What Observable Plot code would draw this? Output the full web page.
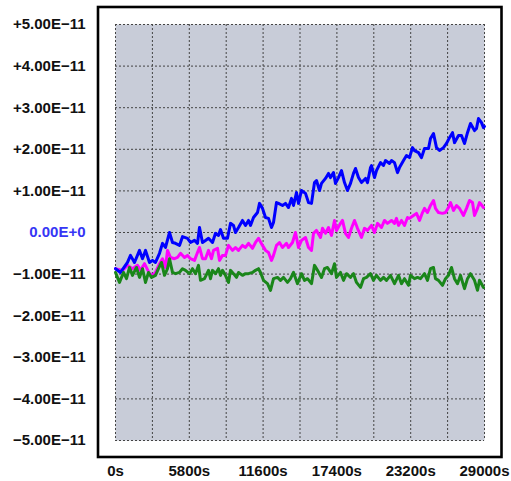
<!DOCTYPE html>
<html>
<head>
<meta charset="utf-8">
<script src="https://cdn.jsdelivr.net/npm/d3@7"></script>
<script src="https://cdn.jsdelivr.net/npm/@observablehq/plot@0.6"></script>
<style>
  html, body { margin: 0; padding: 0; background: #ffffff; }
</style>
</head>
<body>
<div id="chart"></div>
<script>
// Values are in units of 1E-11; time in seconds.
const xTickValues = [0, 5800, 11600, 17400, 23200, 29000];
const xTickLabels = ["0s", "5800s", "11600s", "17400s", "23200s", "29000s"];
const xGridTicks = [0, 2900, 5800, 8700, 11600, 14500, 17400, 20300, 23200, 26100, 29000];

const yTickValues = [5, 4, 3, 2, 1, 0, -1, -2, -3, -4, -5];
const yTickLabels = ["+5.00E−11", "+4.00E−11", "+3.00E−11", "+2.00E−11", "+1.00E−11", "0.00E+0",
  "−1.00E−11", "−2.00E−11", "−3.00E−11", "−4.00E−11", "−5.00E−11"];

const blueT = [0,393,943,1179,1493,1886,2122,2358,2672,2908,3144,3458,3694,3930,4244,4480,4715,5030,5265,5658,5894,6209,6444,6602,6837,7073,7309,7623,7859,8095,8252,8488,8802,9038,9274,9431,9667,9981,10217,10453,10610,10846,11160,11317,11553,11789,12024,12260,12417,12653,12810,13125,13360,13596,13832,13989,14225,14382,14618,14932,15168,15404,15639,15797,16032,16190,16504,16740,16897,17133,17290,17526,17762,17997,18233,18469,18704,18862,19097,19333,19648,19805,20041,20119,20355,20512,20826,21062,21219,21534,21691,21927,22162,22320,22634,22870,23106,23341,23498,23813,24049,24284,24599,24756,24992,25228,25463,25778,26013,26249,26485,26642,26956,27192,27428,27664,27899,28214,28371,28528,28764,28921,29000];
const blueV = [-0.87,-0.96,-0.72,-0.55,-0.72,-0.43,-0.63,-0.43,-0.72,-0.67,-0.72,-0.50,-0.26,-0.36,0.00,-0.24,-0.26,-0.31,-0.10,-0.14,-0.24,-0.19,-0.26,0.12,-0.24,-0.19,-0.14,-0.24,-0.02,-0.07,0.07,-0.14,-0.14,0.22,0.17,0.00,0.12,0.29,0.17,0.29,0.17,0.36,0.48,0.70,0.58,0.36,0.34,0.12,0.24,0.72,0.70,0.65,0.70,0.60,0.82,0.65,0.96,0.70,1.01,0.94,0.72,0.70,1.20,1.25,1.01,1.18,1.30,1.42,1.32,1.44,1.18,1.32,1.49,1.20,1.01,1.18,1.42,1.54,1.32,1.20,1.30,1.20,1.56,1.61,1.32,1.49,1.68,1.61,1.73,1.66,1.73,1.68,1.44,1.56,1.73,1.85,1.80,2.04,1.97,1.92,1.80,2.02,2.02,2.26,2.38,2.04,1.97,2.04,2.14,2.28,2.40,2.16,2.33,2.33,2.14,2.40,2.62,2.45,2.50,2.74,2.64,2.52,2.55];

const magentaT = [0,550,943,1336,1729,1965,2279,2672,2908,3144,3458,3694,3930,4087,4322,4637,4873,5108,5423,5658,5894,6209,6444,6602,6837,7073,7309,7545,7702,8016,8173,8409,8645,8881,9195,9431,9667,9981,10217,10453,10767,11003,11238,11553,11789,12024,12260,12417,12653,12889,13125,13439,13596,13910,14146,14382,14618,14932,15168,15404,15561,15797,16111,16268,16504,16740,16976,17212,17369,17683,17840,18076,18311,18547,18783,19019,19333,19569,19805,20119,20355,20591,20905,21141,21377,21691,21927,22084,22241,22477,22713,22948,23106,23420,23656,23892,24127,24284,24520,24756,24992,25149,25385,25699,25935,26171,26328,26564,26800,27035,27350,27586,27821,28057,28214,28450,28607,28921];
const magentaV = [-0.87,-0.91,-0.79,-0.87,-0.79,-0.91,-0.75,-0.99,-1.03,-0.96,-0.75,-0.63,-0.84,-0.43,-0.60,-0.63,-0.60,-0.50,-0.60,-0.55,-0.63,-0.67,-0.48,-0.36,-0.63,-0.63,-0.43,-0.63,-0.43,-0.38,-0.67,-0.55,-0.55,-0.31,-0.43,-0.36,-0.43,-0.31,-0.36,-0.26,-0.38,-0.24,-0.14,-0.31,-0.43,-0.48,-0.67,-0.55,-0.31,-0.24,-0.36,-0.26,-0.36,-0.24,0.00,-0.36,-0.19,-0.12,-0.36,-0.43,-0.02,0.05,-0.12,0.10,-0.02,0.12,-0.07,0.29,0.05,0.22,0.29,-0.02,-0.12,0.10,0.29,0.10,-0.12,0.10,0.05,0.17,0.00,0.22,0.12,0.29,0.22,0.29,0.22,0.34,0.17,0.29,0.17,0.36,0.34,0.41,0.46,0.29,0.48,0.58,0.48,0.65,0.77,0.58,0.48,0.46,0.48,0.60,0.72,0.53,0.65,0.58,0.41,0.58,0.77,0.72,0.41,0.58,0.72,0.60];

const greenT = [0,314,629,865,1100,1336,1650,1886,2122,2358,2593,2829,3144,3379,3615,3851,4087,4244,4480,4715,5030,5265,5501,5816,6051,6287,6523,6680,6994,7309,7466,7623,7859,8095,8252,8409,8645,8881,9038,9274,9509,9667,9981,10217,10453,10767,11003,11238,11396,11631,11946,12181,12417,12732,12967,13203,13517,13753,13989,14303,14618,14853,15089,15404,15639,15875,16190,16425,16661,16976,17212,17369,17683,17919,18154,18469,18704,18940,19255,19490,19726,20041,20276,20512,20826,21062,21298,21612,21927,22241,22477,22713,23027,23184,23498,23734,23970,24284,24520,24756,24992,25149,25385,25699,25935,26171,26406,26642,26878,27114,27428,27664,27899,28214,28450,28607,28921];
const greenV = [-0.96,-1.20,-0.96,-1.11,-0.84,-1.03,-0.84,-1.08,-0.87,-1.20,-0.96,-1.08,-1.03,-0.87,-0.72,-1.03,-0.87,-0.63,-0.96,-0.99,-0.96,-0.87,-0.91,-0.99,-0.87,-0.99,-0.79,-1.15,-1.11,-0.91,-1.11,-0.91,-0.99,-0.87,-1.03,-0.91,-1.03,-1.20,-0.91,-0.99,-1.08,-0.96,-1.03,-0.99,-0.99,-0.96,-0.91,-0.87,-0.96,-1.15,-1.23,-1.39,-1.11,-1.08,-1.15,-1.08,-1.20,-1.11,-0.96,-1.23,-0.99,-1.15,-1.11,-1.23,-0.79,-0.91,-1.08,-0.87,-0.84,-0.99,-0.75,-1.08,-0.96,-1.15,-0.99,-1.08,-0.99,-1.20,-1.32,-1.11,-1.08,-0.99,-1.15,-1.03,-1.15,-1.08,-1.15,-1.03,-1.23,-1.03,-1.23,-1.11,-1.27,-1.03,-1.11,-1.08,-1.11,-0.99,-1.15,-0.87,-0.84,-1.11,-1.15,-1.27,-1.11,-1.03,-0.84,-1.11,-1.23,-1.03,-1.35,-1.11,-0.99,-1.15,-1.39,-1.15,-1.32];

const seriesNames = ["magenta", "blue", "green"];
const seriesColors = {magenta: "#ff00ff", blue: "#0000ff", green: "#1a861a"};

const toRows = (name, T, V) => T.map((t, i) => ({series: name, t, v: V[i]}));
const rows = [
  ...toRows("magenta", magentaT, magentaV),
  ...toRows("blue", blueT, blueV),
  ...toRows("green", greenT, greenV)
];

const font = "'Liberation Sans', Arial, Helvetica, sans-serif";
const fmtY = d => yTickLabels[yTickValues.indexOf(d)];
const fmtX = d => xTickLabels[xTickValues.indexOf(d)];

const chart = Plot.plot({
  width: 511,
  height: 481,
  marginLeft: 115,
  marginRight: 27,
  marginTop: 24,
  marginBottom: 41,
  style: {fontFamily: font, fontSize: "15px", fontWeight: "bold", background: "#ffffff", color: "#000"},
  x: {domain: [0, 29000]},
  y: {domain: [-5, 5]},
  marks: [
    Plot.frame({fill: "#c8ccd8", stroke: null}),
    Plot.ruleX(xGridTicks, {stroke: "#444", strokeWidth: 1, strokeDasharray: "2,2"}),
    Plot.ruleY(yTickValues, {stroke: "#444", strokeWidth: 1, strokeDasharray: "2,2"}),
    ...seriesNames.map(name =>
      Plot.line(rows.filter(r => r.series === name), {
        x: "t", y: "v", stroke: seriesColors[name], strokeWidth: 3,
        strokeLinejoin: "round", strokeLinecap: "round"
      })
    ),
    Plot.frame({stroke: "#000", strokeWidth: 2.6, insetLeft: -17.5, insetTop: -17.5, insetRight: -17, insetBottom: -16.5}),
    Plot.axisX(xTickValues, {tickSize: 0, tickPadding: 25, tickFormat: fmtX, label: null, fontSize: 15, fontWeight: "bold", fill: "#111"}),
    Plot.axisY(yTickValues.filter(d => d !== 0), {tickSize: 0, tickPadding: 30, tickFormat: fmtY, label: null, fontSize: 15, fontWeight: "bold", fill: "#111"}),
    Plot.axisY([0], {tickSize: 0, tickPadding: 30, tickFormat: fmtY, label: null, fontSize: 15, fontWeight: "bold", fill: "#3636f5"})
  ]
});
document.getElementById("chart").appendChild(chart);
</script>
</body>
</html>
